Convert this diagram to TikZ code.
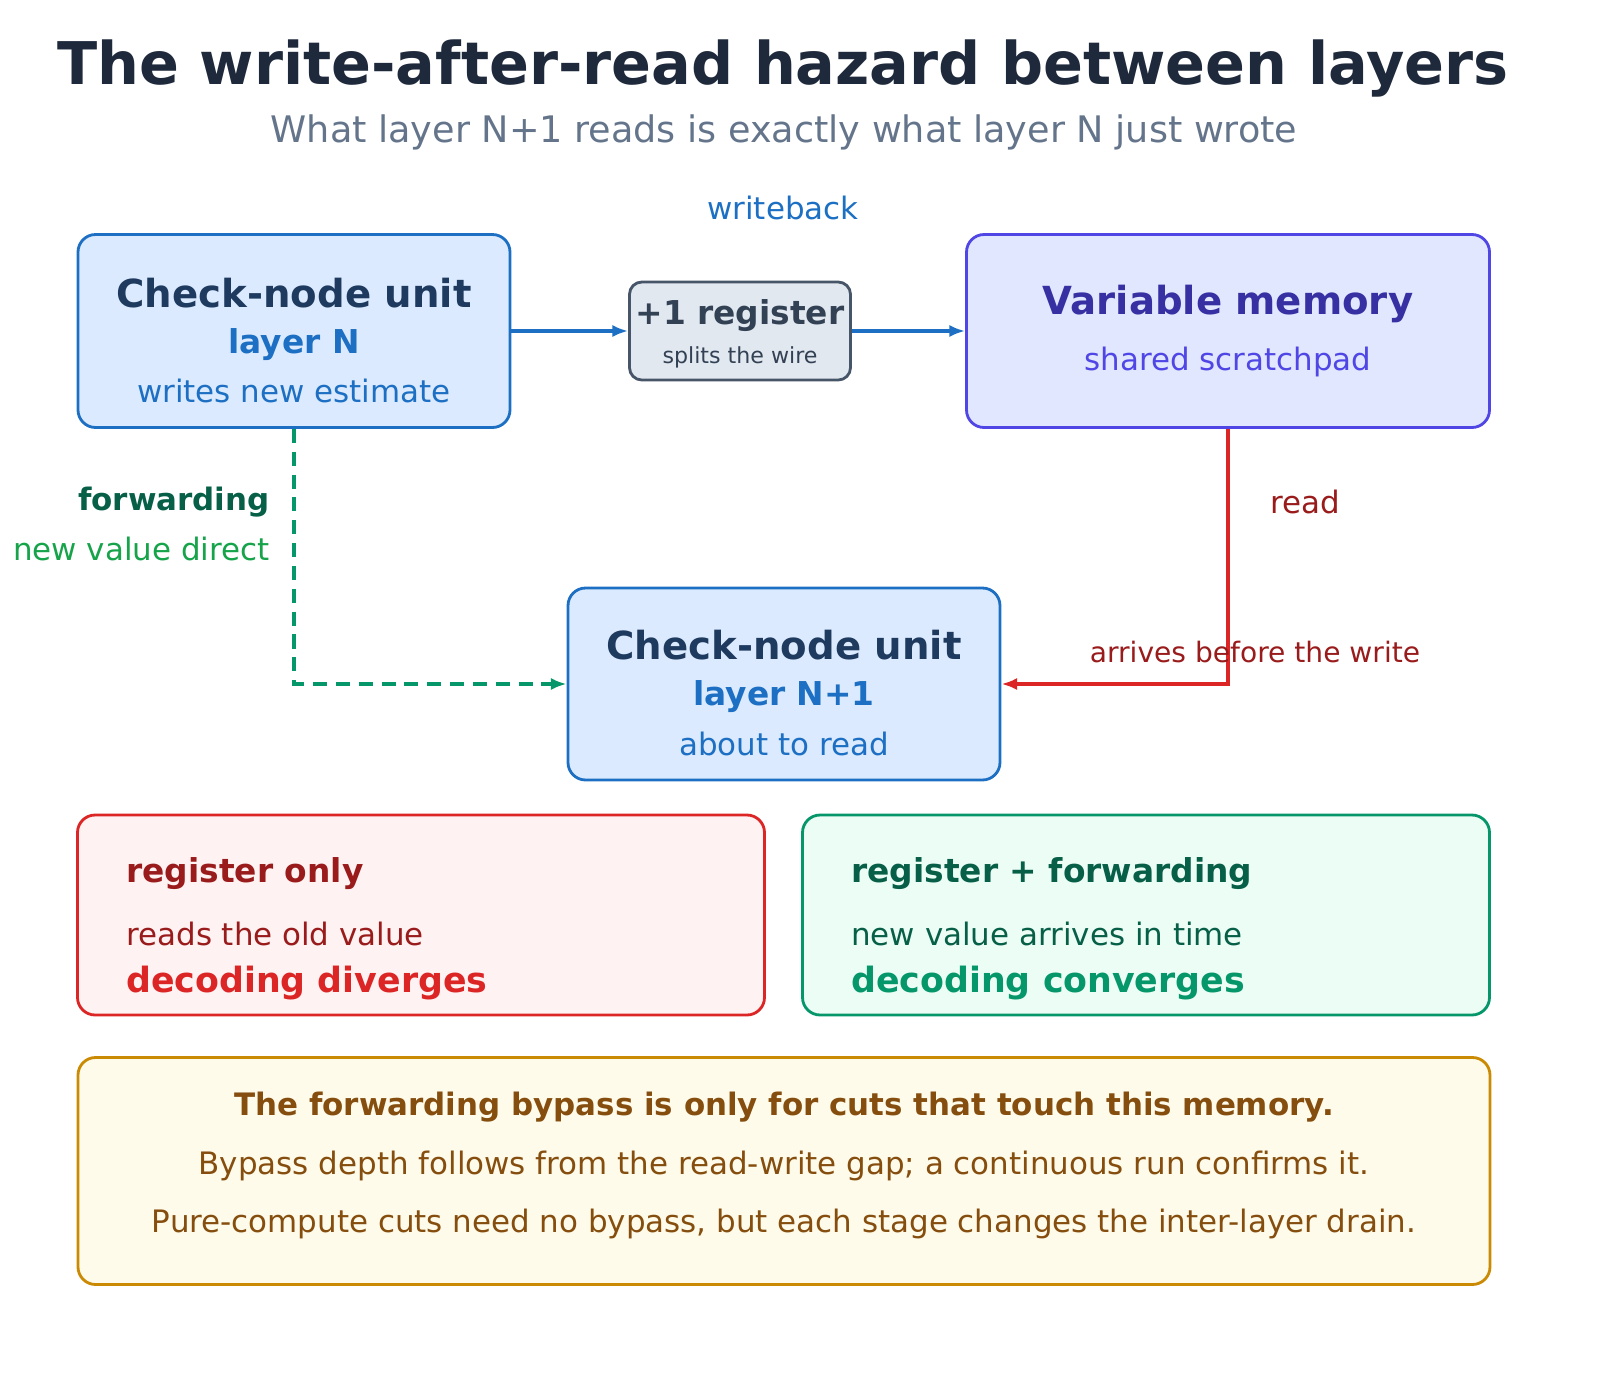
\documentclass[tikz,border=0pt]{standalone}
\usepackage{fontspec}
\setmainfont{DejaVu Sans}
\usetikzlibrary{arrows.meta,positioning}
\definecolor{inkdark}{HTML}{1E293B}
\definecolor{inkgrey}{HTML}{64748B}
\definecolor{cnline}{HTML}{1C6FC2}
\definecolor{cnfill}{HTML}{DBEAFE}
\definecolor{cntext}{HTML}{1E3A5F}
\definecolor{memline}{HTML}{4F46E5}
\definecolor{memfill}{HTML}{E0E7FF}
\definecolor{memtext}{HTML}{3730A3}
\definecolor{regline}{HTML}{475569}
\definecolor{regfill}{HTML}{E2E8F0}
\definecolor{regtext}{HTML}{334155}
\definecolor{badline}{HTML}{DC2626}
\definecolor{badfill}{HTML}{FEF2F2}
\definecolor{badtext}{HTML}{991B1B}
\definecolor{goodline}{HTML}{059669}
\definecolor{goodfill}{HTML}{ECFDF5}
\definecolor{goodtext}{HTML}{065F46}
\definecolor{fwdtext}{HTML}{16A34A}
\definecolor{noteline}{HTML}{CA8A04}
\definecolor{notefill}{HTML}{FEFBEA}
\definecolor{notetext}{HTML}{854D0E}
\begin{document}
\begin{tikzpicture}[x=0.02cm,y=-0.02cm,
            box/.style={rectangle, rounded corners=10pt, line width=1.6pt, inner sep=0pt},
            txt/.style={inner sep=0pt, anchor=center},
            lft/.style={inner sep=0pt, anchor=west},
            wire/.style={-{Latex[length=9pt,width=7pt]}, line width=2pt}
        ]
        \useasboundingbox (0,0) rectangle (1600,1380);

        % title
        \node[txt, text=inkdark, font=\bfseries\fontsize{33.5}{38}\selectfont] (title) at (783,68) {The write-after-read hazard between layers};
        \node[txt, text=inkgrey, font=\fontsize{20.8}{24}\selectfont] (subtitle) at (784,132) {What layer N+1 reads is exactly what layer N just wrote};

        % boxes
        \node[box, draw=cnline, fill=cnfill, minimum width=432*0.02cm, minimum height=193*0.02cm] (cnN) at (294,331) {};
        \node[box, draw=regline, fill=regfill, rounded corners=7pt, minimum width=221*0.02cm, minimum height=98*0.02cm] (reg) at (740,331) {};
        \node[box, draw=memline, fill=memfill, minimum width=523*0.02cm, minimum height=193*0.02cm] (mem) at (1228,331) {};
        \node[box, draw=cnline, fill=cnfill, minimum width=432*0.02cm, minimum height=192*0.02cm] (cnM) at (784,684) {};
        \node[box, draw=badline, fill=badfill, minimum width=687*0.02cm, minimum height=200*0.02cm] (bad) at (421,915) {};
        \node[box, draw=goodline, fill=goodfill, minimum width=687*0.02cm, minimum height=200*0.02cm] (good) at (1146,915) {};
        \node[box, draw=noteline, fill=notefill, minimum width=1412*0.02cm, minimum height=227*0.02cm] (note) at (784,1171) {};

        % box texts
        \node[txt, text=cntext, font=\bfseries\fontsize{22}{26}\selectfont] (cnNa) at (294,293) {Check-node unit};
        \node[txt, text=cnline, font=\bfseries\fontsize{18.7}{22}\selectfont] (cnNb) at (294,345) {layer N};
        \node[txt, text=cnline, font=\fontsize{17.6}{21}\selectfont] (cnNc) at (294,391) {writes new estimate};
        \node[txt, text=regtext, font=\bfseries\fontsize{18.7}{22}\selectfont] (rega) at (740,316) {+1 register};
        \node[txt, text=regtext, font=\fontsize{12.6}{15}\selectfont] (regb) at (740,357) {splits the wire};
        \node[txt, text=memtext, font=\bfseries\fontsize{22}{26}\selectfont] (mema) at (1228,304) {Variable memory};
        \node[txt, text=memline, font=\fontsize{17.6}{21}\selectfont] (memb) at (1228,362) {shared scratchpad};
        \node[txt, text=cntext, font=\bfseries\fontsize{22}{26}\selectfont] (cnMa) at (784,645) {Check-node unit};
        \node[txt, text=cnline, font=\bfseries\fontsize{18.7}{22}\selectfont] (cnMb) at (784,697) {layer N+1};
        \node[txt, text=cnline, font=\fontsize{17.6}{21}\selectfont] (cnMc) at (784,744) {about to read};

        \node[lft, text=badtext, font=\bfseries\fontsize{18.7}{22}\selectfont] (bada) at (126,874) {register only};
        \node[lft, text=badtext, font=\fontsize{17.6}{21}\selectfont] (badb) at (126,934) {reads the old value};
        \node[lft, text=badline, font=\bfseries\fontsize{19.8}{23}\selectfont] (badc) at (126,983) {decoding diverges};
        \node[lft, text=goodtext, font=\bfseries\fontsize{18.7}{22}\selectfont] (gooda) at (851,874) {register + forwarding};
        \node[lft, text=goodtext, font=\fontsize{17.6}{21}\selectfont] (goodb) at (851,934) {new value arrives in time};
        \node[lft, text=goodline, font=\bfseries\fontsize{19.8}{23}\selectfont] (goodc) at (851,983) {decoding converges};

        \node[txt, text=notetext, font=\bfseries\fontsize{17.6}{21}\selectfont] (notea) at (784,1107) {The forwarding bypass is only for cuts that touch this memory.};
        \node[txt, text=notetext, font=\fontsize{17.6}{21}\selectfont] (noteb) at (784,1166) {Bypass depth follows from the read-write gap; a continuous run confirms it.};
        \node[txt, text=notetext, font=\fontsize{17.6}{21}\selectfont] (notec) at (784,1224) {Pure-compute cuts need no bypass, but each stage changes the inter-layer drain.};

        % connectors
        \draw[wire, draw=cnline] (cnN.east) -- (reg.west);
        \draw[wire, draw=cnline] (reg.east) -- (mem.west);
        \draw[wire, draw=goodline, dashed, dash pattern=on 8pt off 5pt] (cnN.south) |- (cnM.west);
        \draw[wire, draw=badline] (mem.south) |- (cnM.east);

        % connector labels
        \node[txt, text=cnline, font=\fontsize{17.6}{21}\selectfont] (wbl) at (783,208) {writeback};
        \node[inner sep=0pt, anchor=east, text=goodtext, font=\bfseries\fontsize{17.6}{21}\selectfont] (fwda) at (270,502) {forwarding};
        \node[inner sep=0pt, anchor=east, text=fwdtext, font=\fontsize{17.6}{21}\selectfont] (fwdb) at (270,549) {new value direct};
        \node[txt, text=badtext, font=\fontsize{17.6}{21}\selectfont] (rda) at (1305,502) {read};
        \node[txt, text=badtext, font=\fontsize{16}{19}\selectfont] (rdb) at (1255,652) {arrives before the write};
    \end{tikzpicture}
\end{document}
